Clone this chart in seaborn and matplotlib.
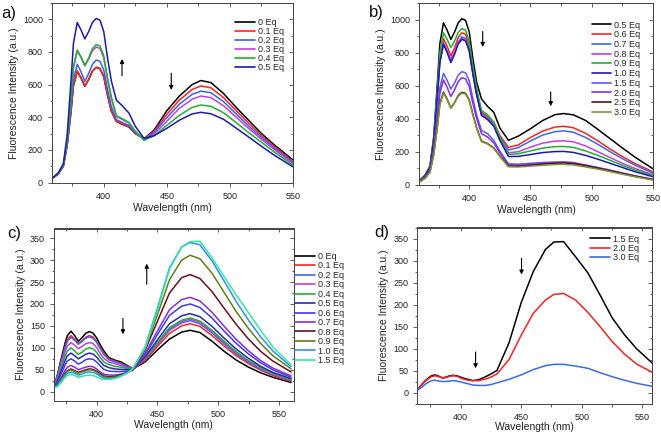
import numpy as np
import pandas as pd
import matplotlib
matplotlib.use("Agg")
import matplotlib.pyplot as plt
from matplotlib.ticker import MultipleLocator, NullFormatter
import seaborn as sns

# ---------------- data ----------------
WL_AB = [360, 364, 368, 371, 374, 376, 379, 382, 385, 388, 391, 394, 397, 400, 403, 406, 410,
         415, 420, 425, 432, 440, 450, 460, 470, 477, 485, 495, 505, 515, 525, 535, 550]
WL_CD = [365, 368, 371, 374, 376, 379, 382, 385, 388, 391, 394, 397, 400, 403, 406, 410,
         415, 420, 425, 430, 440, 450, 460, 470, 477, 485, 495, 505, 515, 525, 535, 545, 560]

A_LABELS = ["0 Eq", "0.1 Eq", "0.2 Eq", "0.3 Eq", "0.4 Eq", "0.5 Eq"]
A_0 = [30, 52, 100, 225, 428, 592, 680, 640, 590, 630, 682, 705, 698, 649, 536, 437, 375,
       355, 340, 300, 268, 322, 440, 530, 600, 625, 612, 545, 460, 380, 300, 232, 138]
A_01 = [30, 52, 100, 226, 432, 596, 685, 643, 592, 632, 683, 706, 699, 650, 537, 438, 375,
        358, 342, 303, 267, 315, 418, 505, 570, 592, 580, 520, 440, 362, 288, 222, 127]
A_02 = [30, 54, 103, 235, 457, 631, 725, 678, 620, 666, 724, 750, 743, 690, 570, 465, 385,
        367, 350, 305, 265, 308, 398, 480, 540, 560, 550, 495, 420, 345, 276, 212, 122]
A_03 = [30, 56, 106, 255, 510, 705, 810, 767, 715, 755, 807, 830, 822, 764, 631, 515, 405,
        385, 365, 310, 262, 298, 375, 455, 510, 530, 520, 470, 400, 330, 265, 203, 116]
A_04 = [30, 56, 106, 255, 510, 705, 810, 769, 718, 762, 820, 845, 837, 777, 642, 524, 410,
        390, 368, 315, 258, 287, 350, 412, 460, 475, 467, 427, 367, 305, 247, 188, 106]
A_05 = [30, 60, 115, 290, 617, 853, 980, 935, 880, 924, 980, 1005, 995, 925, 764, 623, 505,
        468, 425, 345, 270, 287, 332, 382, 420, 430, 421, 387, 333, 278, 222, 168, 96]
A_COLORS = ["#000000", "#ff2020", "#3a62e8", "#c040e0", "#20b030", "#1a1ab0"]

B_LABELS = ["0.5 Eq", "0.6 Eq", "0.7 Eq", "0.8 Eq", "0.9 Eq", "1.0 Eq", "1.5 Eq", "2.0 Eq", "2.5 Eq", "3.0 Eq"]
B_05 = [30, 60, 115, 290, 617, 853, 980, 935, 880, 924, 980, 1005, 995, 925, 764, 623, 520,
        475, 440, 345, 270, 295, 340, 390, 425, 432, 424, 390, 336, 280, 224, 170, 98]
B_06 = [28, 57, 110, 270, 558, 770, 885, 838, 780, 829, 892, 920, 911, 846, 699, 570, 440,
        415, 380, 300, 228, 242, 287, 326, 350, 355, 346, 312, 267, 217, 172, 131, 80]
B_07 = [28, 56, 108, 265, 542, 748, 860, 808, 745, 797, 865, 895, 886, 823, 680, 555, 430,
        405, 370, 290, 212, 226, 266, 302, 322, 327, 319, 287, 246, 201, 159, 121, 72]
B_08 = [28, 56, 108, 263, 539, 744, 855, 812, 760, 804, 860, 885, 876, 814, 673, 549, 425,
        400, 365, 280, 195, 201, 229, 253, 265, 267, 261, 236, 201, 166, 131, 101, 62]
B_09 = [29, 58, 112, 277, 580, 800, 920, 880, 830, 870, 922, 945, 936, 869, 718, 586, 450,
        425, 380, 290, 185, 189, 206, 223, 232, 233, 227, 206, 179, 149, 119, 91, 58]
B_10 = [28, 56, 107, 262, 536, 740, 850, 800, 740, 790, 852, 880, 871, 810, 669, 546, 420,
        395, 355, 270, 172, 173, 184, 196, 202, 203, 197, 179, 156, 131, 106, 81, 50]
B_15 = [25, 48, 90, 215, 425, 587, 675, 632, 580, 617, 664, 685, 678, 630, 521, 425, 330,
        310, 270, 205, 128, 126, 131, 136, 139, 140, 136, 121, 106, 90, 73, 56, 35]
B_20 = [24, 46, 86, 205, 400, 552, 635, 590, 535, 575, 626, 648, 642, 596, 492, 402, 310,
        290, 255, 195, 122, 119, 124, 131, 134, 135, 131, 119, 103, 88, 71, 55, 33]
B_25 = [22, 42, 80, 185, 354, 489, 562, 518, 465, 498, 541, 560, 554, 515, 426, 347, 265,
        250, 225, 175, 115, 113, 119, 126, 131, 133, 129, 116, 101, 86, 69, 53, 32]
B_30 = [22, 41, 78, 182, 350, 483, 555, 515, 465, 497, 537, 555, 549, 511, 422, 344, 262,
        248, 222, 172, 110, 109, 114, 119, 124, 125, 121, 109, 96, 81, 65, 50, 30]
B_COLORS = ["#000000", "#ff2020", "#3a6ae8", "#c040e0", "#20b030", "#1a1ab0",
            "#5a5af5", "#8a2be2", "#5a0a1a", "#7a9a30"]

C_LABELS = ["0 Eq", "0.1 Eq", "0.2 Eq", "0.3 Eq", "0.4 Eq", "0.5 Eq", "0.6 Eq",
            "0.7 Eq", "0.8 Eq", "0.9 Eq", "1.0 Eq", "1.5 Eq"]
C_0 = [12, 41, 76, 110, 128, 138, 128, 115, 123, 133, 137, 134, 123, 107, 93, 78,
       72, 68, 60, 52, 68, 95, 120, 136, 140, 135, 115, 92, 72, 56, 43, 33, 21]
C_01 = [12, 38, 70, 102, 119, 128, 120, 110, 116, 124, 128, 125, 115, 100, 87, 75,
        70, 65, 58, 52, 72, 103, 133, 150, 155, 149, 128, 104, 82, 64, 49, 37, 24]
C_02 = [12, 37, 68, 99, 115, 124, 117, 108, 114, 122, 125, 122, 113, 98, 85, 73,
        68, 64, 57, 52, 75, 108, 140, 157, 162, 155, 134, 109, 86, 67, 51, 39, 26]
C_03 = [11, 34, 62, 90, 104, 112, 106, 98, 103, 109, 112, 110, 101, 87, 76, 68,
        64, 60, 55, 51, 76, 110, 143, 160, 165, 158, 137, 112, 89, 69, 53, 40, 27]
C_04 = [11, 30, 55, 80, 93, 100, 93, 85, 90, 97, 100, 98, 90, 78, 68, 62,
        58, 56, 53, 51, 78, 112, 146, 163, 168, 161, 140, 115, 91, 71, 55, 42, 28]
C_05 = [11, 26, 48, 70, 82, 88, 82, 75, 80, 85, 88, 86, 79, 69, 60, 55,
        52, 51, 50, 51, 80, 118, 155, 173, 178, 171, 149, 122, 97, 76, 58, 44, 30]
C_06 = [11, 23, 41, 60, 70, 75, 70, 63, 67, 73, 75, 74, 68, 59, 51, 47,
        46, 46, 47, 50, 85, 130, 174, 195, 200, 192, 168, 138, 110, 86, 66, 50, 33]
C_07 = [10, 18, 33, 48, 56, 60, 56, 50, 53, 56, 58, 57, 52, 45, 40, 38,
        38, 40, 44, 50, 88, 138, 187, 210, 215, 207, 181, 149, 119, 93, 71, 54, 36]
C_08 = [10, 16, 29, 42, 48, 52, 48, 44, 47, 50, 52, 51, 47, 41, 36, 34,
        35, 38, 43, 51, 95, 160, 225, 260, 267, 258, 228, 190, 153, 120, 92, 70, 45]
C_09 = [10, 15, 28, 40, 47, 50, 46, 42, 45, 48, 50, 49, 45, 39, 34, 32,
        33, 37, 43, 52, 98, 175, 255, 300, 311, 303, 270, 226, 182, 144, 110, 82, 52]
C_10 = [9, 14, 25, 36, 42, 45, 42, 38, 40, 44, 45, 44, 41, 35, 31, 30,
        31, 36, 43, 53, 102, 190, 282, 330, 340, 335, 298, 252, 205, 163, 125, 93, 57]
C_15 = [9, 12, 22, 32, 37, 40, 37, 33, 35, 37, 38, 37, 34, 30, 28, 28,
        30, 35, 42, 53, 100, 185, 280, 330, 342, 343, 305, 262, 220, 180, 140, 102, 61]
C_COLORS = ["#000000", "#ff2020", "#3a6ae8", "#c040e0", "#20b030", "#2a2ab0",
            "#3a3af5", "#8a2be2", "#6a0f1f", "#5e7f1a", "#2f8fef", "#30e8a0"]

D_LABELS = ["1.5 Eq", "2.0 Eq", "3.0 Eq"]
D_15 = [8, 18, 27, 34, 38, 40, 37, 33, 35, 38, 39, 38, 35, 32, 30, 27,
        29, 35, 42, 50, 113, 204, 275, 325, 342, 343, 308, 272, 222, 170, 132, 100, 62]
D_20 = [8, 17, 26, 32, 36, 38, 36, 33, 34, 37, 38, 37, 33, 30, 28, 27,
        27, 30, 35, 42, 75, 130, 180, 210, 223, 225, 210, 182, 150, 116, 88, 65, 43]
D_30 = [6, 12, 19, 24, 27, 28, 26, 25, 25, 26, 27, 26, 24, 22, 20, 17,
        16, 16, 18, 22, 30, 40, 52, 61, 64, 64, 60, 55, 45, 36, 28, 21, 13]
D_COLORS = ["#000000", "#ff2020", "#3a6ae8"]

# ---------------- style ----------------
sns.set_theme(style="ticks")
plt.rcParams["font.family"] = ["Liberation Sans", "DejaVu Sans"]

W, H = 661, 434
fig = plt.figure(figsize=(W / 100, H / 100), dpi=100)


def axes_px(l, t, r, b):
    return fig.add_axes([l / W, 1 - b / H, (r - l) / W, (b - t) / H])


def long_df(wl, labels, series):
    rows = []
    for lab, ys in zip(labels, series):
        for x, y in zip(wl, ys):
            rows.append((lab, x, y))
    return pd.DataFrame(rows, columns=["series", "wl", "I"])


def draw(ax, wl, labels, series, colors, xlim, ylim, ymaj, ymin, xpad=1.5):
    df = long_df(wl, labels, series)
    sns.lineplot(data=df, x="wl", y="I", hue="series", hue_order=labels,
                 palette=colors, ax=ax, linewidth=1.1, legend=False)
    ax.set_xlim(*xlim)
    ax.set_ylim(*ylim)
    for axis, maj, mn in [(ax.xaxis, 50, 25), (ax.yaxis, ymaj, ymin)]:
        axis.set_major_locator(MultipleLocator(maj))
        axis.set_minor_locator(MultipleLocator(mn))
    ax.tick_params(which="both", direction="out", labelsize=6.5, width=0.6,
                   colors="#444444", labelcolor="#222222")
    ax.tick_params(which="major", length=3)
    ax.tick_params(which="minor", length=1.8)
    # mirrored inward ticks on top / right
    top = ax.secondary_xaxis("top")
    right = ax.secondary_yaxis("right")
    for sec, axis, maj, mn in [(top, top.xaxis, 50, 25), (right, right.yaxis, ymaj, ymin)]:
        axis.set_major_locator(MultipleLocator(maj))
        axis.set_minor_locator(MultipleLocator(mn))
        axis.set_major_formatter(NullFormatter())
        sec.tick_params(which="both", direction="in", width=0.6, colors="#444444")
        sec.tick_params(which="major", length=3)
        sec.tick_params(which="minor", length=1.8)
        for s in sec.spines.values():
            s.set_linewidth(0.7)
            s.set_color("#444444")
    for s in ax.spines.values():
        s.set_linewidth(0.7)
        s.set_color("#444444")
    ax.set_xlabel("Wavelength (nm)", fontsize=7.5, labelpad=xpad, color="#222222")
    ax.set_ylabel("Fluorescence Intensity (a.u.)", fontsize=7.5, labelpad=3, color="#222222")


def legend(ax, labels, colors, anchor, spacing=0.0):
    handles = [plt.Line2D([], [], color=c, lw=1.2) for c in colors]
    ax.legend(handles, labels, loc="upper left", bbox_to_anchor=anchor, frameon=False,
              fontsize=6.5, handlelength=2.2, handletextpad=0.3,
              labelspacing=spacing, borderaxespad=0, borderpad=0)


def arrow(ax, x, y0, y1):
    ax.annotate("", xy=(x, y1), xytext=(x, y0),
                arrowprops=dict(arrowstyle="-|>", color="black", lw=0.8,
                                mutation_scale=6, shrinkA=0, shrinkB=0))


# panel a
ax_a = axes_px(52, 3, 293, 182.5)
draw(ax_a, WL_AB, A_LABELS, [A_0, A_01, A_02, A_03, A_04, A_05], A_COLORS,
     (359, 550), (0, 1100), 200, 100)
legend(ax_a, A_LABELS, A_COLORS, ((235 - 52) / 241, (182.5 - 18) / 179.5), spacing=0.0)
arrow(ax_a, 414.5, 654, 757)
arrow(ax_a, 453.5, 670, 567)

# panel b
ax_b = axes_px(419, 3, 653, 185)
draw(ax_b, WL_AB, B_LABELS, [B_05, B_06, B_07, B_08, B_09, B_10, B_15, B_20, B_25, B_30],
     B_COLORS, (359, 550), (0, 1100), 200, 100)
legend(ax_b, B_LABELS, B_COLORS, ((591.5 - 419) / 234, (185 - 20.5) / 182), spacing=0.08)
arrow(ax_b, 411, 928, 834)
arrow(ax_b, 466.5, 562, 476)

# panel c
ax_c = axes_px(54, 228.5, 293.5, 400.5)
draw(ax_c, WL_CD, C_LABELS, [C_0, C_01, C_02, C_03, C_04, C_05, C_06, C_07, C_08, C_09, C_10, C_15],
     C_COLORS, (365, 562), (-20, 372), 50, 25, xpad=1.0)
legend(ax_c, C_LABELS, C_COLORS, (1.006, (400.5 - 252) / 172), spacing=0.05)
arrow(ax_c, 441.3, 245, 292)
arrow(ax_c, 421.7, 167, 131)

# panel d
ax_d = axes_px(417.5, 227.5, 651.5, 403.5)
draw(ax_d, WL_CD, D_LABELS, [D_15, D_20, D_30], D_COLORS,
     (364.5, 557.5), (-25, 375), 50, 25, xpad=0.5)
legend(ax_d, D_LABELS, D_COLORS, ((590 - 417.5) / 234, (403.5 - 234.5) / 176), spacing=0.05)
arrow(ax_d, 450.3, 305, 268)
arrow(ax_d, 412.4, 92, 55)

# panel letters
for txt, x, y in [("a)", 1, 6), ("b)", 369, 5), ("c)", 7, 226), ("d)", 374, 225)]:
    fig.text(x / W, 1 - y / H, txt, fontsize=12, va="top", ha="left", color="#111111")

fig.savefig("out.png", dpi=100)
